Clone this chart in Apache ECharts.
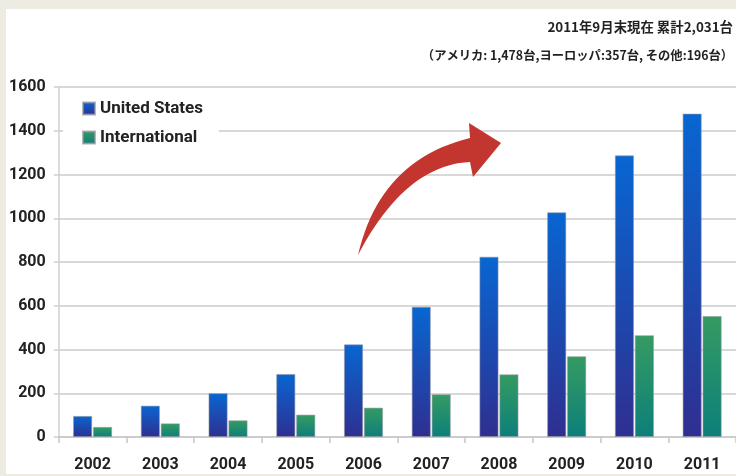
<!DOCTYPE html>
<html>
<head>
<meta charset="utf-8">
<script src="https://cdn.jsdelivr.net/npm/echarts@6/dist/echarts.min.js"></script>
<style>
  html, body { margin: 0; padding: 0; width: 736px; height: 476px; background: #edebe2; overflow: hidden; }
  #chart { position: absolute; left: 6px; top: 9px; width: 730px; height: 465px; background: #ffffff; }
</style>
</head>
<body>
<div id="chart"></div>
<script>
const years = ['2002', '2003', '2004', '2005', '2006', '2007', '2008', '2009', '2010', '2011'];
const usValues = [96, 143, 200, 288, 423, 595, 824, 1027, 1287, 1478];
const intlValues = [46, 62, 76, 102, 134, 195, 286, 369, 465, 553];
const seriesNames = ['United States', 'International'];
const titleLine1 = '2011年9月末現在 累計2,031台';
const titleLine2 = '（アメリカ: 1,478台,ヨーロッパ:357台, その他:196台）';

const latin = 'Roboto, "Liberation Sans", sans-serif';
const cjk = '"Noto Sans CJK JP", "Noto Sans", sans-serif';

// decorative curved arrow outline (annotation, not data)
function quad(p0, c, p1, n) {
  const pts = [];
  for (let i = 0; i <= n; i++) {
    const t = i / n, u = 1 - t;
    pts.push([u * u * p0[0] + 2 * u * t * c[0] + t * t * p1[0],
              u * u * p0[1] + 2 * u * t * c[1] + t * t * p1[1]]);
  }
  return pts;
}
const arrowPts = []
  .concat(quad([352, 246], [374, 151], [464, 129], 24))
  .concat([[463, 114], [495, 134], [467, 168]])
  .concat(quad([464, 153], [399, 156], [352, 246], 24));

const chart = echarts.init(document.getElementById('chart'), null, { renderer: 'canvas' });

chart.setOption({
  animation: false,
  backgroundColor: '#ffffff',
  title: [
    {
      text: titleLine1, right: 3, top: 11, padding: 0,
      textStyle: { fontFamily: cjk, fontSize: 13.4, fontWeight: 'bold', color: '#222' }
    },
    {
      text: titleLine2, right: 3, top: 40, padding: 0,
      textStyle: { fontFamily: cjk, fontSize: 12.3, fontWeight: 'bold', color: '#222' }
    }
  ],
  legend: {
    orient: 'vertical',
    left: 57, top: 85,
    padding: [6, 16, 8, 19],
    backgroundColor: '#ffffff',
    itemWidth: 12, itemHeight: 12, itemGap: 12,
    icon: 'rect',
    textStyle: { fontFamily: latin, fontSize: 17, fontWeight: 'bold', color: '#222' },
    data: seriesNames
  },
  grid: { left: 52, right: 0, top: 78, bottom: 37, containLabel: false },
  xAxis: {
    type: 'category',
    data: years,
    axisLine: { lineStyle: { color: '#c8c8c8', width: 1.5 } },
    axisTick: { show: true, length: 6, lineStyle: { color: '#c8c8c8', width: 1.5 } },
    axisLabel: { margin: 20, fontFamily: latin, fontSize: 16, fontWeight: 'bold', color: '#222' }
  },
  yAxis: {
    type: 'value',
    min: 0, max: 1600, interval: 200,
    axisLine: { show: true, lineStyle: { color: '#d0d0d0', width: 1.5 } },
    axisTick: { show: true, length: 5, lineStyle: { color: '#d0d0d0', width: 1.5 } },
    axisLabel: {
      margin: 13, fontFamily: latin, fontSize: 16, fontWeight: 'bold', color: '#222',
      formatter: function (v) { return String(v); }
    },
    splitLine: { lineStyle: { color: '#d8d8d8', width: 2 } }
  },
  graphic: [
    {
      type: 'polygon',
      z: 50,
      shape: { points: arrowPts },
      style: { fill: '#c3352f' }
    }
  ],
  series: [
    {
      name: seriesNames[0], type: 'bar', data: usValues,
      barWidth: 19, barGap: '5%',
      itemStyle: {
        color: { type: 'linear', x: 0, y: 0, x2: 0, y2: 1,
          colorStops: [{ offset: 0, color: '#0866d2' }, { offset: 1, color: '#2f2f90' }] },
        borderColor: 'rgba(150,150,160,0.7)', borderWidth: 0.8
      }
    },
    {
      name: seriesNames[1], type: 'bar', data: intlValues,
      barWidth: 19, barGap: '5%',
      itemStyle: {
        color: { type: 'linear', x: 0, y: 0, x2: 0, y2: 1,
          colorStops: [{ offset: 0, color: '#359b62' }, { offset: 1, color: '#0c7f7a' }] },
        borderColor: 'rgba(150,150,160,0.7)', borderWidth: 0.8
      }
    }
  ]
});
</script>
</body>
</html>
